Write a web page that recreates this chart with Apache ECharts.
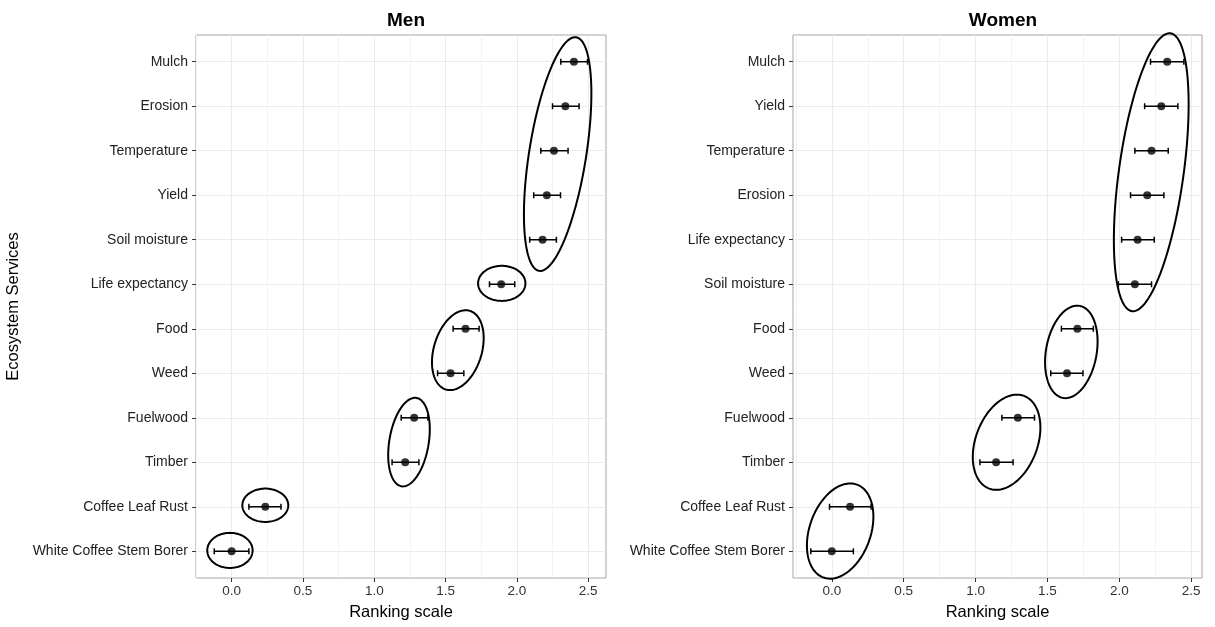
<!DOCTYPE html>
<html>
<head>
<meta charset="utf-8">
<script src="https://cdn.jsdelivr.net/npm/echarts@6/dist/echarts.min.js"></script>
<style>html,body{margin:0;padding:0;background:#fff}#c{width:1215px;height:627px}</style>
</head>
<body>
<div id="c"></div>
<script>
// ---- data (top to bottom) ----
var menCategories = ['Mulch','Erosion','Temperature','Yield','Soil moisture','Life expectancy','Food','Weed','Fuelwood','Timber','Coffee Leaf Rust','White Coffee Stem Borer'];
var menMean = [2.40, 2.34, 2.26, 2.21, 2.18, 1.89, 1.64, 1.535, 1.28, 1.217, 0.236, 0.0];
var menLow  = [2.308, 2.25, 2.168, 2.118, 2.09, 1.808, 1.553, 1.444, 1.189, 1.125, 0.121, -0.122];
var menHigh = [2.495, 2.436, 2.359, 2.306, 2.277, 1.985, 1.735, 1.628, 1.376, 1.313, 0.346, 0.121];

var womenCategories = ['Mulch','Yield','Temperature','Erosion','Life expectancy','Soil moisture','Food','Weed','Fuelwood','Timber','Coffee Leaf Rust','White Coffee Stem Borer'];
var womenMean = [2.333, 2.292, 2.224, 2.194, 2.127, 2.108, 1.708, 1.636, 1.294, 1.143, 0.127, 0.0];
var womenLow  = [2.217, 2.176, 2.108, 2.078, 2.016, 1.993, 1.597, 1.523, 1.183, 1.030, -0.016, -0.146];
var womenHigh = [2.449, 2.407, 2.340, 2.310, 2.243, 2.224, 1.819, 1.747, 1.410, 1.261, 0.273, 0.150];

// group ellipses: [axisEnd1 x, axisEnd1 y(index), axisEnd2 x, axisEnd2 y(index), perpendicular half-axis (ranking units)]
var menEllipses = [
  [2.416, -0.549, 2.156, 4.699, 0.200],
  [1.728, 4.98, 2.060, 4.98, 0.123],
  [1.670, 5.598, 1.502, 7.365, 0.168],
  [1.296, 7.554, 1.191, 9.539, 0.138],
  [0.075, 9.966, 0.397, 9.966, 0.117],
  [-0.171, 10.98, 0.147, 10.98, 0.123]
];
var womenEllipses = [
  [2.356, -0.638, 2.088, 5.605, 0.225],
  [1.724, 5.486, 1.608, 7.554, 0.176],
  [1.3375, 7.509, 1.094, 9.591, 0.215],
  [0.174, 9.501, -0.058, 11.59, 0.2125]
];

var xMajorTicks = [0, 0.5, 1, 1.5, 2, 2.5];
var xMinorTicks = [-0.25, 0.25, 0.75, 1.25, 1.75, 2.25];
var yTickIndex = [0,1,2,3,4,5,6,7,8,9,10,11];

// ---- helpers ----
var FONT = '"Liberation Sans", Arial, Helvetica, sans-serif';

function pointData(mean){ return mean.map(function(v,i){ return [v,i]; }); }
function barData(lo,hi){ return lo.map(function(v,i){ return [v,hi[i],i]; }); }

function renderErr(params, api){
  var y = api.value(2);
  var a = api.coord([api.value(0), y]);
  var b = api.coord([api.value(1), y]);
  var h = 3;
  var st = {stroke:'#000', lineWidth:1.5};
  return {type:'group', children:[
    {type:'line', shape:{x1:a[0],y1:a[1],x2:b[0],y2:b[1]}, style:st},
    {type:'line', shape:{x1:a[0],y1:a[1]-h,x2:a[0],y2:a[1]+h}, style:st},
    {type:'line', shape:{x1:b[0],y1:b[1]-h,x2:b[0],y2:b[1]+h}, style:st}
  ]};
}
function renderEllipse(params, api){
  var p1 = api.coord([api.value(0), api.value(1)]);
  var p2 = api.coord([api.value(2), api.value(3)]);
  var bw = api.size([api.value(4), 0])[0];
  var cx = (p1[0]+p2[0])/2, cy = (p1[1]+p2[1])/2;
  var dx = p2[0]-p1[0], dy = p2[1]-p1[1];
  var len = Math.sqrt(dx*dx+dy*dy);
  var ux = dx/len, uy = dy/len, vx = -uy, vy = ux;
  var a = len/2;
  var pts = [];
  for (var k=0;k<120;k++){
    var t = k/120*Math.PI*2;
    var ca = Math.cos(t)*a, sb = Math.sin(t)*bw;
    pts.push([cx + ca*ux + sb*vx, cy + ca*uy + sb*vy]);
  }
  return {type:'polygon', shape:{points:pts}, style:{fill:'none', stroke:'#000', lineWidth:2}};
}

function xAxes(gi, min, max){
  return [
    {type:'value', gridIndex:gi, min:min, max:max, position:'bottom',
     name: 'Ranking scale', nameLocation:'middle', nameGap:26,
     nameTextStyle:{fontSize:16.5, color:'#000', fontFamily:FONT},
     axisLine:{show:false, onZero:false},
     axisTick:{show:true, customValues:xMajorTicks, length:4, lineStyle:{color:'#333'}},
     axisLabel:{customValues:xMajorTicks, formatter:function(v){return v.toFixed(1);}, fontSize:13.5, color:'#333', margin:6, fontFamily:FONT},
     splitLine:{show:true, lineStyle:{color:'#ebebeb', width:1}}},
    {type:'value', gridIndex:gi, min:min, max:max, show:true, position:'bottom',
     axisLine:{show:false, onZero:false}, axisLabel:{show:false},
     axisTick:{show:false, customValues:xMinorTicks},
     splitLine:{show:true, lineStyle:{color:'#f3f3f3', width:1}}}
  ];
}
function yAxis(gi, cats, withName){
  return {type:'value', gridIndex:gi, inverse:true, min:-0.6, max:11.6, position:'left',
    name: withName ? 'Ecosystem Services' : '', nameLocation:'middle', nameGap:174, nameRotate:90,
    nameTextStyle:{fontSize:16.5, color:'#000', fontFamily:FONT},
    axisLine:{show:false, onZero:false},
    axisTick:{show:true, customValues:yTickIndex, length:4, lineStyle:{color:'#333'}},
    axisLabel:{customValues:yTickIndex, formatter:function(v){return cats[Math.round(v)];}, fontSize:14, color:'#222', margin:8, fontFamily:FONT},
    splitLine:{show:true, lineStyle:{color:'#ebebeb', width:1}}};
}

function panelSeries(gi, mean, lo, hi, ell){
  var xi = gi*2, yi = gi;
  return [
    {type:'custom', xAxisIndex:xi, yAxisIndex:yi, renderItem:renderEllipse, data:ell,
     encode:{x:[0,2], y:[1,3]}, silent:true, clip:false, z:3},
    {type:'custom', xAxisIndex:xi, yAxisIndex:yi, renderItem:renderErr, data:barData(lo,hi),
     encode:{x:[0,1], y:2}, silent:true, z:4},
    {type:'scatter', xAxisIndex:xi, yAxisIndex:yi, data:pointData(mean), symbol:'circle', symbolSize:8,
     itemStyle:{color:'#000'}, silent:true, z:5}
  ];
}

var chart = echarts.init(document.getElementById('c'));
chart.setOption({
  animation:false,
  backgroundColor:'#fff',
  textStyle:{fontFamily:FONT},
  title:[
    {text:'Men', left:401, top:6, textAlign:'center', textStyle:{fontSize:19, fontWeight:'bold', color:'#000', fontFamily:FONT}},
    {text:'Women', left:998, top:6, textAlign:'center', textStyle:{fontSize:19, fontWeight:'bold', color:'#000', fontFamily:FONT}}
  ],
  grid:[
    {left:196, top:35, width:410, height:543, show:true, borderColor:'#a6a6a6', borderWidth:1, backgroundColor:'transparent'},
    {left:793, top:35, width:409, height:543, show:true, borderColor:'#a6a6a6', borderWidth:1, backgroundColor:'transparent'}
  ],
  xAxis: xAxes(0, -0.25, 2.625).concat(xAxes(1, -0.27, 2.575)),
  yAxis: [yAxis(0, menCategories, true), yAxis(1, womenCategories, false)],
  series: panelSeries(0, menMean, menLow, menHigh, menEllipses)
          .concat(panelSeries(1, womenMean, womenLow, womenHigh, womenEllipses))
});
</script>
</body>
</html>
